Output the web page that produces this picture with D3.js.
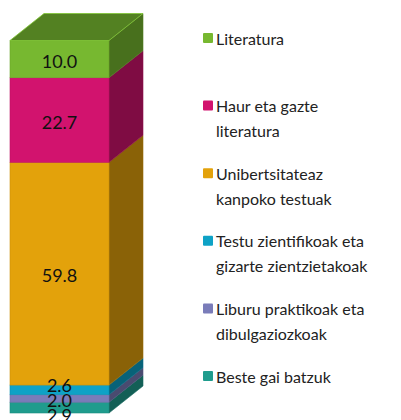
<!DOCTYPE html>
<html>
<head>
<meta charset="utf-8">
<script src="https://cdn.jsdelivr.net/npm/d3@7"></script>
<style>
  body { margin: 0; background: #fff; }
  svg { display: block; font-family: Lato, "Open Sans", sans-serif; }
</style>
</head>
<body>
<svg class="chart"></svg>
<script>
// data (bottom to top in the stack)
const categories = ["Beste gai batzuk", "Liburu praktikoak eta dibulgaziozkoak", "Testu zientifikoak eta gizarte zientzietakoak", "Unibertsitateaz kanpoko testuak", "Haur eta gazte literatura", "Literatura"];
const values = [2.9, 2.0, 2.6, 59.8, 22.7, 10.0];
const colors = ["#1f9c8d", "#7a7cb9", "#0ea2c6", "#e3a20b", "#d2136e", "#77b830"];
// legend lines, top to bottom
const legendLines = [
  ["Literatura"],
  ["Haur eta gazte", "literatura"],
  ["Unibertsitateaz", "kanpoko testuak"],
  ["Testu zientifikoak eta", "gizarte zientzietakoak"],
  ["Liburu praktikoak eta", "dibulgaziozkoak"],
  ["Beste gai batzuk"]
];
const legendColors = ["#77b830", "#d2136e", "#e3a20b", "#0ea2c6", "#7a7cb9", "#1f9c8d"];

const width = 401, height = 420;
const depthX = 34, depthY = -27;

const svg = d3.select(".chart").attr("width", width).attr("height", height);

// scales
const x = d3.scaleBand().domain(["total"]).range([10, 109]).padding(0);
const y = d3.scaleLinear().domain([0, 100]).range([413, 40.5]);

// stack
let acc = 0;
const segs = values.map((v, i) => {
  const s = { v, y0: acc, y1: acc + v, color: colors[i] };
  acc += v;
  return s;
});

const x0 = x("total"), x1 = x0 + x.bandwidth();
const g = svg.append("g");

segs.forEach((s, i) => {
  const top = y(s.y1), bot = y(s.y0);
  const c = d3.color(s.color);
  // side face
  g.append("path")
    .attr("d", `M${x1},${bot}L${x1 + depthX},${bot + depthY}L${x1 + depthX},${top + depthY}L${x1},${top}Z`)
    .attr("fill", c.darker(1.4))
    .attr("stroke", c.darker(1.1)).attr("stroke-width", 0.6);
  // front face
  g.append("rect")
    .attr("x", x0).attr("y", top)
    .attr("width", x1 - x0).attr("height", bot - top)
    .attr("fill", s.color)
    .attr("stroke", c.darker(0.3)).attr("stroke-width", 0.6);
  // top face on the last segment
  if (i === segs.length - 1) {
    g.append("path")
      .attr("d", `M${x0},${top}L${x0 + depthX},${top + depthY}L${x1 + depthX},${top + depthY}L${x1},${top}Z`)
      .attr("fill", c.darker(1.0))
      .attr("stroke", c.brighter(0.2)).attr("stroke-width", 0.8);
  }
});

// value labels, with small labels pushed apart
const gap = 15;
const labels = segs.map(s => ({ text: s.v.toFixed(1), c: (y(s.y0) + y(s.y1)) / 2 }))
  .sort((a, b) => a.c - b.c);
let clusters = [];
labels.forEach(l => {
  clusters.push({ items: [l], mid: l.c });
  while (clusters.length > 1) {
    const a = clusters[clusters.length - 2], b = clusters[clusters.length - 1];
    const aBot = a.mid + (a.items.length - 1) * gap / 2;
    const bTop = b.mid - (b.items.length - 1) * gap / 2;
    if (bTop - aBot >= gap) break;
    const items = a.items.concat(b.items);
    clusters.splice(-2, 2, { items, mid: d3.mean(items, d => d.c) });
  }
});
clusters.forEach(cl => {
  cl.items.forEach((l, k) => { l.pos = cl.mid + (k - (cl.items.length - 1) / 2) * gap; });
});

g.selectAll(".val").data(labels).join("text")
  .attr("class", "val")
  .attr("x", (x0 + x1) / 2)
  .attr("y", d => d.pos + 2.5)
  .attr("dy", "0.35em")
  .attr("text-anchor", "middle")
  .attr("font-size", 18)
  .attr("fill", "#111")
  .text(d => d.text);

// legend
const ly = d3.scalePoint().domain(d3.range(legendLines.length)).range([39, 377]);
const leg = svg.append("g").selectAll("g").data(legendLines).join("g")
  .attr("transform", (d, i) => `translate(203,${ly(i)})`);
leg.append("rect")
  .attr("x", 0).attr("y", -6).attr("width", 10).attr("height", 10)
  .attr("rx", 1)
  .attr("fill", (d, i) => legendColors[i]);
leg.append("text")
  .attr("font-size", 16)
  .attr("fill", "#222")
  .selectAll("tspan").data(d => d).join("tspan")
  .attr("x", 13)
  .attr("y", (d, k) => k * 25)
  .attr("dy", "0.35em")
  .text(d => d);
</script>
</body>
</html>
